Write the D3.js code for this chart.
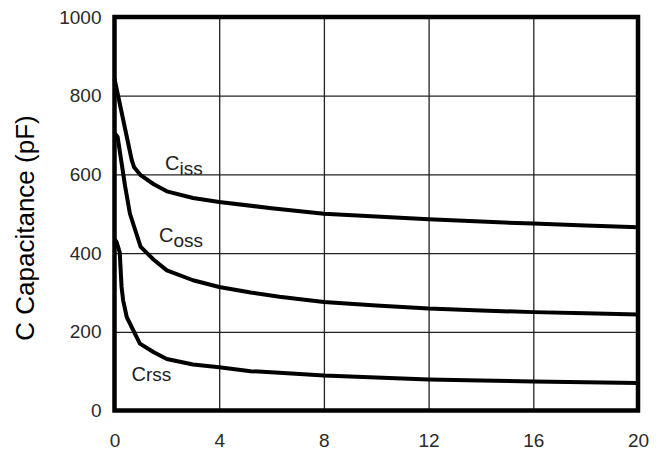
<!DOCTYPE html>
<html>
<head>
<meta charset="utf-8">
<script src="https://cdn.jsdelivr.net/npm/d3@7"></script>
<style>
  body { margin: 0; background: #fff; }
  svg { display: block; font-family: "Liberation Sans", Arial, Helvetica, sans-serif; }
  .grid line { stroke: #222; stroke-width: 1.3; }
  .grid path { display: none; }
  .tick text { fill: #2a2a2a; font-size: 19px; }
</style>
</head>
<body>
<div id="chart"></div>
<script>
  // values (V, pF)
  var xTicks = [0, 4, 8, 12, 16, 20];
  var yTicks = [0, 200, 400, 600, 800, 1000];

  var cissV = [0, 0.66, 0.75, 1, 1.5, 2, 3, 4, 6, 8, 10, 12, 14, 16, 18, 20];
  var cissC = [843, 636, 618, 598, 575, 557, 540, 530, 514, 500, 493, 486, 480, 475, 470, 466];

  var cossV = [0, 0.12, 0.4, 0.59, 1, 1.5, 2, 3, 4, 5.2, 6.3, 8, 10, 12, 14, 16, 18, 20];
  var cossC = [705, 695, 572, 500, 416, 383, 356, 331, 314, 300, 289, 276, 267, 259, 254, 250, 247, 244];

  var crssV = [0, 0.08, 0.2, 0.27, 0.33, 0.47, 0.97, 1.5, 2, 3, 4, 5.2, 6.3, 8, 10, 12, 14, 16, 18, 20];
  var crssC = [435, 428, 402, 314, 280, 237, 170, 148, 131, 117, 110, 100, 96, 89, 84, 79, 76, 74, 72, 70];

  var margin = { top: 17, right: 26, bottom: 43.5, left: 114.5 };
  var width = 664 - margin.left - margin.right;
  var height = 454 - margin.top - margin.bottom;

  var svg = d3.select('#chart')
    .append('svg')
    .attr('width', 664)
    .attr('height', 454)
    .append('g')
    .attr('transform', 'translate(' + margin.left + ',' + margin.top + ')');

  var x = d3.scaleLinear().domain([0, 20]).range([0, width]);
  var y = d3.scaleLinear().domain([0, 1000]).range([height, 0]);

  // grid lines with tick labels
  svg.append('g')
    .attr('class', 'grid')
    .attr('transform', 'translate(0,' + height + ')')
    .call(d3.axisBottom(x).tickValues(xTicks).tickFormat(d3.format('d')).tickSize(-height).tickPadding(23))
    .selectAll('text').attr('dy', '0.71em');

  svg.append('g')
    .attr('class', 'grid')
    .call(d3.axisLeft(y).tickValues(yTicks).tickFormat(d3.format('d')).tickSize(-width).tickPadding(13));

  var line = d3.line()
    .x(function(d) { return x(d[0]); })
    .y(function(d) { return y(d[1]); });

  var series = [
    d3.zip(cissV, cissC),
    d3.zip(cossV, cossC),
    d3.zip(crssV, crssC)
  ];

  svg.selectAll('.curve')
    .data(series)
    .enter().append('path')
    .attr('class', 'curve')
    .attr('d', line)
    .attr('fill', 'none')
    .attr('stroke', '#000')
    .attr('stroke-width', 4)
    .attr('stroke-linejoin', 'round');

  // frame
  svg.append('rect')
    .attr('width', width)
    .attr('height', height)
    .attr('fill', 'none')
    .attr('stroke', '#000')
    .attr('stroke-width', 4.5);

  // curve labels
  function label(lx, ly, sub, drop) {
    var t = svg.append('text')
      .attr('x', lx - margin.left)
      .attr('y', ly - margin.top)
      .attr('font-size', 20)
      .attr('fill', '#222');
    t.append('tspan').text('C');
    t.append('tspan').attr('dy', drop).attr('font-size', 19).text(sub);
  }
  label(165, 170, 'iss', 5);
  label(159, 242, 'oss', 5);
  label(131.5, 380.5, 'rss', 0);

  svg.append('text')
    .attr('transform', 'translate(' + (34 - margin.left) + ',' + (228 - margin.top) + ') rotate(-90)')
    .attr('text-anchor', 'middle')
    .attr('font-size', 26)
    .attr('fill', '#000')
    .text('C Capacitance (pF)');
</script>
</body>
</html>
